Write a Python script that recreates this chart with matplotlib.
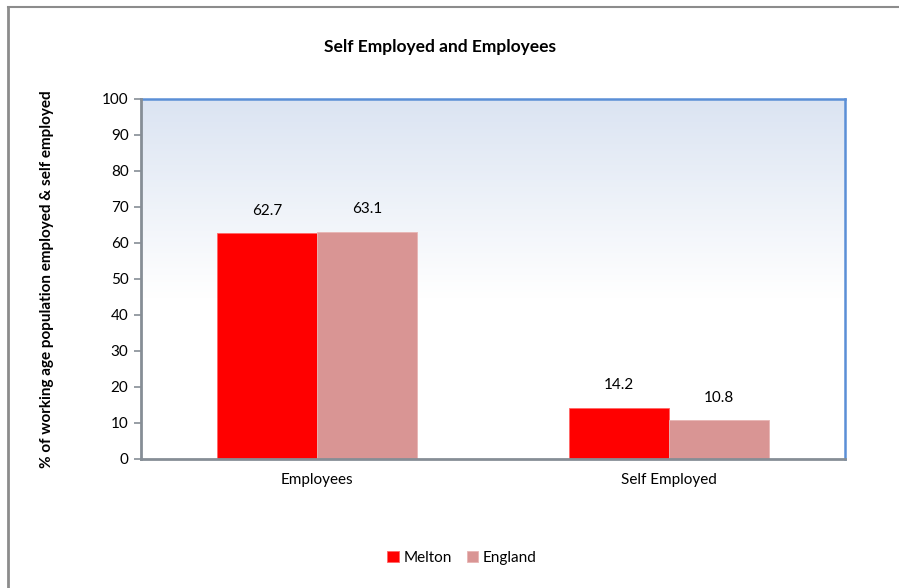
import matplotlib
matplotlib.use("Agg")
import matplotlib.pyplot as plt
import numpy as np
from matplotlib.colors import LinearSegmentedColormap
from matplotlib.lines import Line2D

categories = ["Employees", "Self Employed"]
series_names = ["Melton", "England"]
melton = [62.7, 14.2]
england = [63.1, 10.8]
yticks = [0, 10, 20, 30, 40, 50, 60, 70, 80, 90, 100]

title = "Self Employed and Employees"
ylabel = "% of working age population employed & self employed"

colors = ["#ff0000", "#d99594"]
FONT = ["Lato", "DejaVu Sans"]
plt.rcParams["font.family"] = FONT

fig = plt.figure(figsize=(8.99, 5.88), dpi=100)
fig.patch.set_facecolor("white")

# outer chart border (left and top visible)
fig.add_artist(Line2D([8/899, 8/899], [0, 1 - 7/588], color="#8c8c8c", lw=2, transform=fig.transFigure))
fig.add_artist(Line2D([8/899, 1], [1 - 7/588, 1 - 7/588], color="#8c8c8c", lw=1.5, transform=fig.transFigure))

ax = fig.add_axes([141/899, 1 - 459/588, (845 - 141)/899, (459 - 99)/588])

# gradient background
cmap = LinearSegmentedColormap.from_list("bg", [(0, "#ffffff"), (0.45, "#ffffff"), (1.0, "#dbe4f2")])
grad = np.linspace(0, 1, 256).reshape(-1, 1)
ax.imshow(grad, aspect="auto", cmap=cmap, origin="lower", extent=[0, 1, 0, 1],
          transform=ax.transAxes, zorder=0)

x = np.arange(len(categories))
w = 0.284
b1 = ax.bar(x - w/2, melton, w, color=colors[0], edgecolor="#ff6666", linewidth=0.6, label=series_names[0], zorder=2)
b2 = ax.bar(x + w/2, england, w, color=colors[1], edgecolor="#e8b5b4", linewidth=0.6, label=series_names[1], zorder=2)

for bars, vals in ((b1, melton), (b2, england)):
    for rect, v in zip(bars, vals):
        ax.text(rect.get_x() + rect.get_width()/2, v + 4.3, f"{v:.1f}", ha="center", va="bottom",
                fontsize=11, color="#000000")

ax.set_xlim(-0.5, 1.5)
ax.set_ylim(0, 100)
ax.set_yticks(yticks)
ax.set_yticklabels([str(t) for t in yticks], fontsize=11)
ax.set_xticks(x)
ax.set_xticklabels(categories, fontsize=11)
ax.tick_params(axis="x", length=0, pad=10)
ax.tick_params(axis="y", length=5, width=1.2, color="#868e96", pad=4, direction="out")

for s in ["top", "right"]:
    ax.spines[s].set_color("#5b8fd6")
    ax.spines[s].set_linewidth(1.8)
for s in ["left", "bottom"]:
    ax.spines[s].set_color("#868e96")
    ax.spines[s].set_linewidth(2)
    ax.spines[s].set_zorder(5)

ax.set_ylabel(ylabel, fontsize=11, fontweight="bold")
ax.yaxis.set_label_coords(-87/704, 0.5)

fig.text(440/899, 1 - 47/588, title, ha="center", va="center",
         fontsize=12.5, fontweight="bold")

leg = fig.legend(handles=[b1, b2], labels=series_names, loc="center", bbox_to_anchor=(462/899, 1 - 558/588),
                 ncol=2, frameon=False, fontsize=11, handlelength=0.75, handleheight=0.75,
                 handletextpad=0.3, columnspacing=1.0)

fig.savefig("out.png", dpi=100)
